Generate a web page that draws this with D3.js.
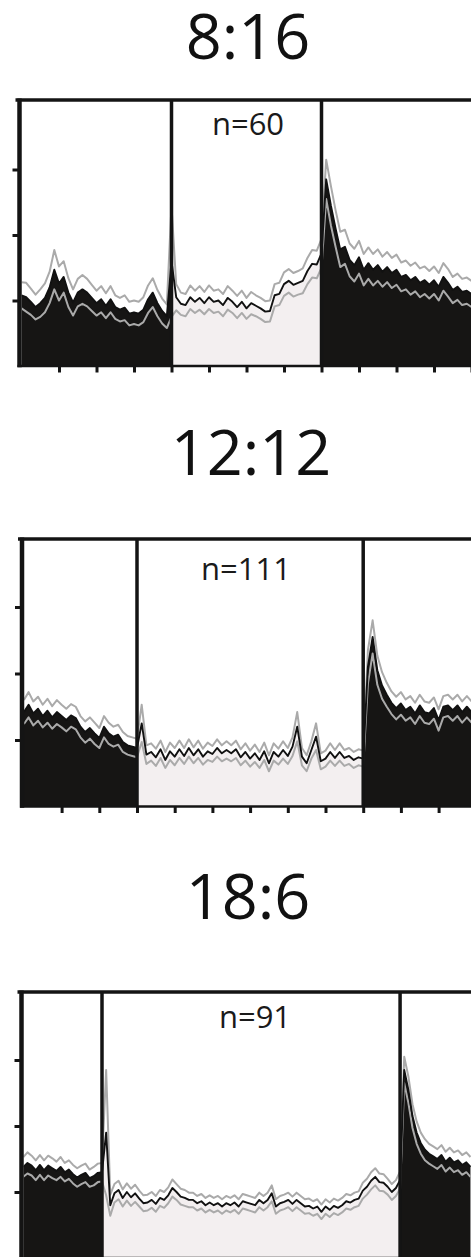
<!DOCTYPE html>
<html><head><meta charset="utf-8">
<script src="https://cdn.jsdelivr.net/npm/d3@7"></script>
<style>body{margin:0;background:#fff}svg{display:block}</style>
</head><body>
<svg id="c" width="471" height="1257"></svg>
<script>
// ---------------- DATA ----------------
const PHOTOPERIODS = ["8:16", "12:12", "18:6"];
const N_LABELS = ["n=60", "n=111", "n=91"];
const LIGHT_HOURS = [8, 12, 18];          // lights on at hour 0, off at LIGHT_HOURS
const START_HOURS = [-8, -6, -4.75];      // first sample time (h relative to lights on)
const STEP_H = 0.25;                      // sampling step (h)
const Y_TICKS = [1, 2, 3];
const X_TICK_STEP = 2;

const MEAN_8_16 = [1.08,1.05,0.98,0.90,0.96,1.04,1.20,1.47,1.26,1.36,1.12,0.97,1.12,1.17,1.12,1.04,0.96,1.02,0.92,1.02,0.90,0.86,0.89,0.80,0.82,0.80,0.86,1.02,1.12,0.96,0.84,0.76,1.60,
 1.05,0.95,0.93,1.05,0.98,1.04,0.96,1.05,0.98,1.00,0.93,1.04,0.98,0.90,0.98,0.88,0.96,0.92,0.88,0.83,0.84,1.08,1.10,1.25,1.30,1.24,1.27,1.30,1.45,1.56,1.55,1.72,
 2.85,2.45,2.10,1.78,1.82,1.62,1.54,1.66,1.47,1.57,1.47,1.54,1.44,1.51,1.42,1.47,1.36,1.39,1.31,1.36,1.27,1.31,1.24,1.31,1.21,1.36,1.27,1.16,1.21,1.13,1.15,1.10];
const SEM_8_16 = [0.20,0.22,0.20,0.19,0.21,0.22,0.24,0.30,0.26,0.24,0.22,0.20,0.21,0.22,0.21,0.20,0.19,0.20,0.19,0.20,0.18,0.18,0.19,0.18,0.18,0.18,0.19,0.21,0.22,0.20,0.19,0.18,0.85,
 0.20,0.17,0.17,0.18,0.17,0.18,0.17,0.18,0.17,0.17,0.17,0.18,0.17,0.17,0.17,0.16,0.17,0.16,0.16,0.16,0.16,0.17,0.17,0.18,0.18,0.18,0.18,0.19,0.20,0.21,0.21,0.22,
 0.30,0.30,0.28,0.27,0.26,0.25,0.25,0.25,0.24,0.24,0.24,0.24,0.23,0.23,0.23,0.23,0.22,0.22,0.22,0.22,0.22,0.21,0.21,0.21,0.21,0.21,0.21,0.20,0.20,0.20,0.20,0.20];

const MEAN_12_12 = [1.42,1.53,1.40,1.47,1.36,1.44,1.34,1.42,1.36,1.30,1.37,1.33,1.20,1.12,1.18,1.10,1.03,1.20,1.10,1.05,1.08,0.97,0.92,0.90,0.88,
 1.25,0.78,0.82,0.74,0.86,0.70,0.83,0.75,0.86,0.76,0.88,0.77,0.86,0.75,0.83,0.79,0.88,0.80,0.85,0.80,0.86,0.74,0.82,0.72,0.80,0.70,0.83,0.65,0.82,0.75,
 0.85,0.76,0.90,1.20,0.75,0.65,0.85,1.05,0.68,0.72,0.82,0.73,0.82,0.73,0.76,0.70,0.74,0.72,
 2.10,2.55,2.05,1.82,1.68,1.56,1.48,1.55,1.45,1.50,1.40,1.52,1.42,1.40,1.48,1.30,1.50,1.52,1.45,1.52,1.42,1.50,1.42];
const SEM_12_12 = [0.18,0.19,0.18,0.18,0.17,0.18,0.17,0.18,0.17,0.17,0.17,0.17,0.16,0.16,0.16,0.16,0.15,0.16,0.16,0.15,0.15,0.15,0.14,0.14,0.14,
 0.28,0.14,0.13,0.13,0.13,0.12,0.13,0.13,0.13,0.12,0.13,0.12,0.13,0.12,0.13,0.12,0.13,0.12,0.13,0.12,0.13,0.12,0.13,0.12,0.13,0.12,0.13,0.12,0.13,0.12,
 0.13,0.12,0.14,0.22,0.13,0.12,0.13,0.20,0.12,0.12,0.13,0.12,0.13,0.12,0.12,0.12,0.12,0.12,
 0.25,0.25,0.22,0.20,0.18,0.17,0.17,0.17,0.16,0.16,0.16,0.16,0.16,0.16,0.16,0.16,0.16,0.16,0.16,0.16,0.16,0.16,0.16];

const MEAN_18_6 = [1.38,1.44,1.40,1.33,1.41,1.33,1.40,1.36,1.32,1.38,1.30,1.34,1.27,1.22,1.26,1.29,1.21,1.24,1.29,1.30,
 1.90,0.80,0.98,1.03,0.91,1.00,0.92,0.98,0.90,0.83,0.84,0.88,0.82,0.91,0.88,0.95,1.06,1.00,0.93,0.91,
 0.88,0.88,0.83,0.86,0.80,0.84,0.80,0.83,0.78,0.83,0.80,0.84,0.78,0.86,0.84,0.82,0.80,0.88,0.83,0.88,
 0.98,0.78,0.83,0.85,0.88,0.82,0.88,0.83,0.78,0.79,0.75,0.78,0.70,0.78,0.73,0.79,0.76,0.80,0.86,0.84,
 0.88,0.90,1.02,1.08,1.17,1.23,1.15,1.14,1.08,1.00,1.06,1.18,
 2.85,2.55,2.15,1.90,1.74,1.64,1.58,1.54,1.50,1.56,1.46,1.52,1.45,1.48,1.41,1.45,1.38];
const SEM_18_6 = [0.15,0.16,0.15,0.15,0.15,0.15,0.15,0.15,0.14,0.15,0.14,0.14,0.14,0.14,0.14,0.14,0.13,0.14,0.14,0.14,
 0.95,0.16,0.14,0.14,0.13,0.13,0.13,0.13,0.12,0.12,0.12,0.12,0.12,0.12,0.12,0.12,0.13,0.12,0.12,0.12,
 0.11,0.11,0.11,0.11,0.11,0.11,0.11,0.11,0.11,0.11,0.11,0.11,0.11,0.11,0.11,0.11,0.11,0.11,0.11,0.11,
 0.12,0.11,0.11,0.11,0.11,0.11,0.11,0.11,0.11,0.11,0.11,0.11,0.11,0.11,0.11,0.11,0.11,0.11,0.11,0.11,
 0.11,0.11,0.12,0.12,0.13,0.13,0.13,0.13,0.12,0.12,0.12,0.13,
 0.20,0.20,0.18,0.17,0.16,0.16,0.15,0.15,0.15,0.15,0.15,0.15,0.15,0.15,0.15,0.15,0.15];

const SERIES = [
  {mean: MEAN_8_16, sem: SEM_8_16},
  {mean: MEAN_12_12, sem: SEM_12_12},
  {mean: MEAN_18_6, sem: SEM_18_6}
];

// ---------------- LAYOUT / STYLE ----------------
const W = 471;
const LAYOUT = [
  {top:100, y0:366,  pxPerUnit:65.5, x0:171.5, pxPerHour:18.75, axisX:19.5, titleX:248, titleY:59,  nX:248, nY:135},
  {top:539, y0:806.5,pxPerUnit:66.5, x0:137,   pxPerHour:18.85, axisX:22,   titleX:251, titleY:475, nX:246, nY:580},
  {top:992, y0:1258, pxPerUnit:66,   x0:102,   pxPerHour:16.56, axisX:21.5, titleX:248, titleY:919, nX:255, nY:1028}
];
const DARK = "#161514", LIGHT = "#f3eff0", SEMC = "#aaaaaa", MEANC = "#111111", AXC = "#141414";
const FONT = "'Open Sans', 'Noto Sans', sans-serif";

const svg = d3.select("#c");
const defs = svg.append("defs");

PHOTOPERIODS.forEach((title, p) => {
  const L = LAYOUT[p], light = LIGHT_HOURS[p], start = START_HOURS[p];
  const {mean, sem} = SERIES[p];
  const data = mean.map((m, i) => ({h: start + i * STEP_H, m, s: sem[i]}));
  const endH = data[data.length - 1].h;

  const x = d3.scaleLinear().domain([0, light]).range([L.x0, L.x0 + L.pxPerHour * light]);
  const y = d3.scaleLinear().domain([0, 1]).range([L.y0, L.y0 - L.pxPerUnit]);

  const g = svg.append("g");

  // title
  svg.append("text").attr("x", L.titleX).attr("y", L.titleY).attr("text-anchor", "middle")
    .attr("font-family", FONT).attr("font-size", 63).attr("fill", "#111").text(title);

  // panel clip
  defs.append("clipPath").attr("id", "panel" + p).append("rect")
    .attr("x", x(start)).attr("y", L.top).attr("width", W - x(start) + 10).attr("height", L.y0 - L.top);
  const plot = g.append("g").attr("clip-path", `url(#panel${p})`);

  const segs = [
    {a: start, b: 0, fill: DARK},
    {a: 0, b: light, fill: LIGHT},
    {a: light, b: endH + 1, fill: DARK}
  ];
  const area = d3.area().x(d => x(d.h)).y0(y(0)).y1(d => y(d.m));
  segs.forEach((s, k) => {
    defs.append("clipPath").attr("id", `seg${p}_${k}`).append("rect")
      .attr("x", x(s.a)).attr("y", L.top - 5).attr("width", x(s.b) - x(s.a)).attr("height", L.y0 - L.top + 10);
    plot.append("path").datum(data).attr("clip-path", `url(#seg${p}_${k})`)
      .attr("fill", s.fill).attr("d", area);
  });

  const lineUp = d3.line().x(d => x(d.h)).y(d => y(d.m + d.s));
  const lineDn = d3.line().x(d => x(d.h)).y(d => y(d.m - d.s));
  const lineM = d3.line().x(d => x(d.h)).y(d => y(d.m));
  plot.append("path").datum(data).attr("fill", "none").attr("stroke", SEMC).attr("stroke-width", 2)
    .attr("stroke-linejoin", "round").attr("d", lineUp);
  plot.append("path").datum(data).attr("fill", "none").attr("stroke", SEMC).attr("stroke-width", 2)
    .attr("stroke-linejoin", "round").attr("d", lineDn);
  plot.append("path").datum(data).attr("fill", "none").attr("stroke", MEANC).attr("stroke-width", 1.9)
    .attr("stroke-linejoin", "round").attr("d", lineM);

  // dividers at light transitions
  [0, light].forEach(h => {
    g.append("line").attr("x1", x(h)).attr("x2", x(h)).attr("y1", L.top).attr("y2", L.y0)
      .attr("stroke", AXC).attr("stroke-width", 3.5);
  });

  // n label
  svg.append("text").attr("x", L.nX).attr("y", L.nY).attr("text-anchor", "middle")
    .attr("font-family", FONT).attr("font-size", 31).attr("fill", "#1a1a1a").text(N_LABELS[p]);

  // axes
  const yAxis = d3.axisLeft(y).tickValues(Y_TICKS).tickSize(7).tickFormat("");
  const ya = g.append("g").attr("transform", `translate(${L.axisX},0)`).call(yAxis);
  ya.select(".domain").remove();
  ya.selectAll(".tick line").attr("stroke", AXC).attr("stroke-width", 3);

  const xTicks = d3.range(Math.ceil((start + 0.01) / X_TICK_STEP) * X_TICK_STEP, endH + 0.01, X_TICK_STEP);
  const xAxis = d3.axisBottom(x).tickValues(xTicks).tickSize(6.5).tickFormat("");
  const xa = g.append("g").attr("transform", `translate(0,${L.y0})`).call(xAxis);
  xa.select(".domain").remove();
  xa.selectAll(".tick line").attr("stroke", AXC).attr("stroke-width", 3);

  // frame lines
  g.append("line").attr("x1", L.axisX - 2).attr("x2", W).attr("y1", L.y0).attr("y2", L.y0)
    .attr("stroke", AXC).attr("stroke-width", 2.5);
  g.append("line").attr("x1", L.axisX).attr("x2", L.axisX).attr("y1", L.top - 1.5).attr("y2", L.y0 + 1.2)
    .attr("stroke", AXC).attr("stroke-width", 4.5);
  g.append("line").attr("x1", L.axisX - 4).attr("x2", W).attr("y1", L.top).attr("y2", L.top)
    .attr("stroke", AXC).attr("stroke-width", 3.5);
});
</script>
</body></html>
